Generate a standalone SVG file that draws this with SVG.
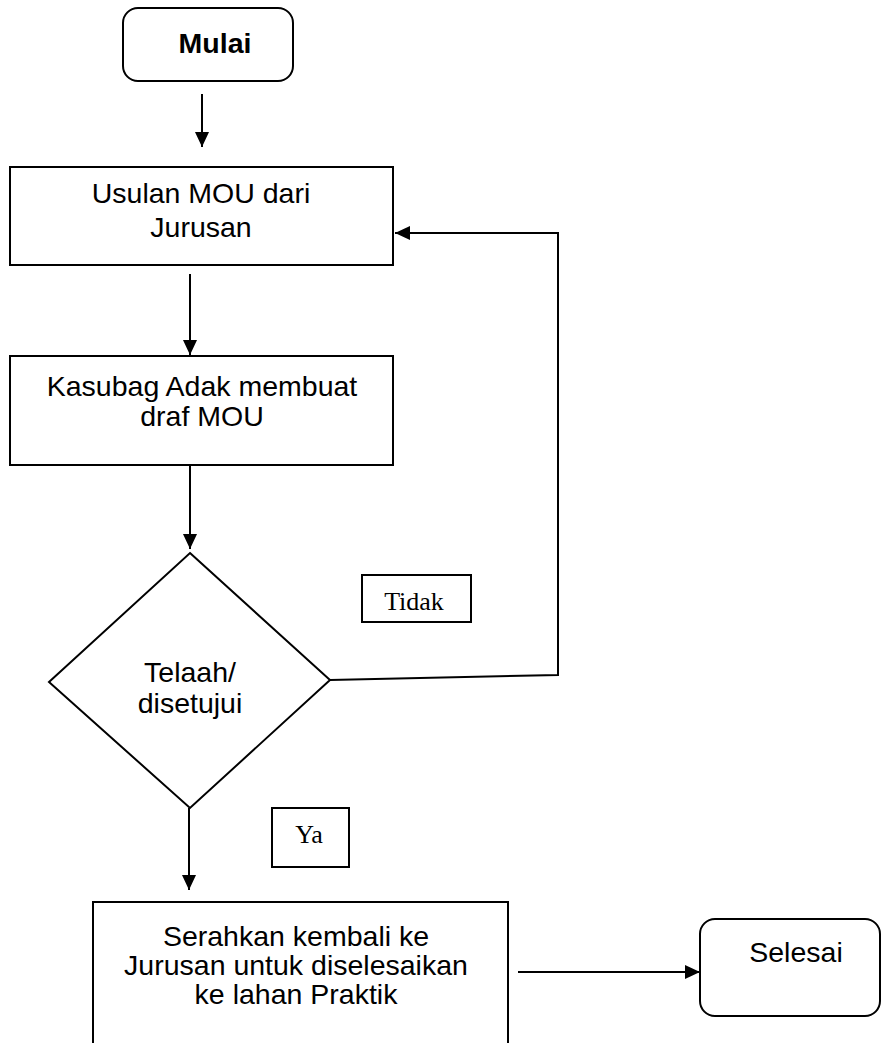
<svg xmlns="http://www.w3.org/2000/svg" width="882" height="1043" viewBox="0 0 882 1043">
<style>
.box{fill:#fff;stroke:#000;stroke-width:2}
.lbl{fill:#fff;stroke:#000;stroke-width:2}
.t{font-family:"Liberation Sans",Arial,sans-serif;font-size:28.5px;fill:#000;text-anchor:middle}
.b{font-weight:bold}
.s{font-family:"Liberation Serif","Times New Roman",serif;font-size:26px;fill:#000;text-anchor:middle}
.c{fill:none;stroke:#000;stroke-width:2}
</style>
<defs>
<marker id="ah" markerUnits="userSpaceOnUse" markerWidth="16" markerHeight="14" refX="15" refY="7" orient="auto">
<path d="M0,0 L15,7 L0,14 Z" fill="#000"/>
</marker>
</defs>
<rect width="882" height="1043" fill="#fff"/>
<g id="connectors">
<line class="c" x1="202" y1="94" x2="202" y2="147" marker-end="url(#ah)"/>
<line class="c" x1="190" y1="274" x2="190" y2="355" marker-end="url(#ah)"/>
<line class="c" x1="190" y1="465" x2="190" y2="549" marker-end="url(#ah)"/>
<polyline class="c" points="330,680 558,675 558,233 395,233" marker-end="url(#ah)"/>
<line class="c" x1="189" y1="808" x2="189" y2="890" marker-end="url(#ah)"/>
<line class="c" x1="518" y1="972" x2="700" y2="972" marker-end="url(#ah)"/>
</g>
<g id="mulai">
<rect class="box" x="123" y="8" width="170" height="73" rx="15"/>
<text class="t b" x="215" y="53">Mulai</text>
</g>
<g id="usulan">
<rect class="box" x="10" y="167" width="383" height="98"/>
<text class="t" x="201" y="203">Usulan MOU dari</text>
<text class="t" x="201" y="237">Jurusan</text>
</g>
<g id="kasubag">
<rect class="box" x="10" y="356" width="383" height="109"/>
<text class="t" x="202" y="396">Kasubag Adak membuat</text>
<text class="t" x="202" y="426">draf MOU</text>
</g>
<g id="telaah">
<polygon class="box" points="190,553 330,680 190,808 49,682"/>
<text class="t" x="190" y="682">Telaah/</text>
<text class="t" x="190" y="713">disetujui</text>
</g>
<g id="tidak">
<rect class="lbl" x="362" y="575" width="109" height="47"/>
<text class="s" x="414" y="610">Tidak</text>
</g>
<g id="ya">
<rect class="lbl" x="272" y="808" width="77" height="59"/>
<text class="s" x="309" y="843">Ya</text>
</g>
<g id="serahkan">
<rect class="box" x="93" y="902" width="415" height="150"/>
<text class="t" x="296" y="946">Serahkan kembali ke</text>
<text class="t" x="296" y="975">Jurusan untuk diselesaikan</text>
<text class="t" x="296" y="1004">ke lahan Praktik</text>
</g>
<g id="selesai">
<rect class="box" x="700" y="919" width="180" height="97" rx="15"/>
<text class="t" x="796" y="962">Selesai</text>
</g>
</svg>
